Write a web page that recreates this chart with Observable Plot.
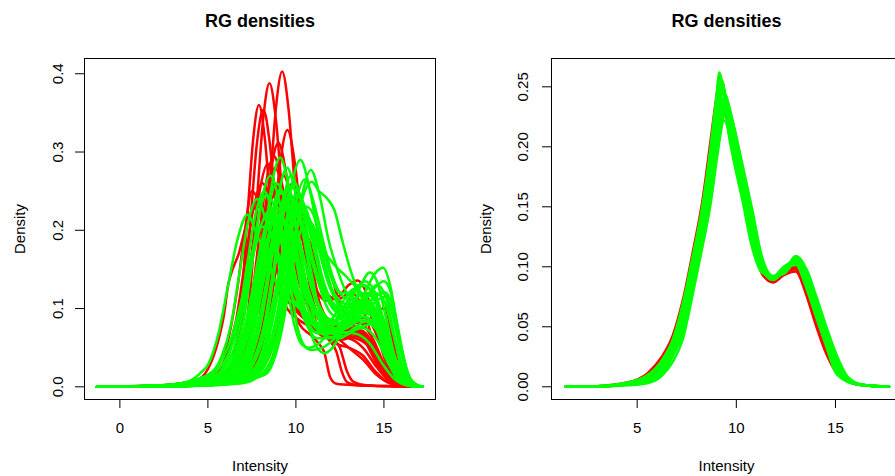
<!DOCTYPE html>
<html><head><meta charset="utf-8">
<script src="https://cdn.jsdelivr.net/npm/d3@7"></script>
<script src="https://cdn.jsdelivr.net/npm/@observablehq/plot@0.6"></script>
<style>
html,body{margin:0;padding:0;background:#fff;}
#wrap{position:relative;width:895px;height:476px;overflow:hidden;background:#fff;}
#left,#right{position:absolute;top:0;height:476px;}
#left{left:0;width:450px;} #right{left:447px;width:460px;}
#left svg,#right svg{max-width:none !important;display:block;}
</style></head><body><div id="wrap"><div id="left"></div><div id="right"></div></div>
<script>
// ---------- text ----------
const mainTitle = "RG densities";
const xLabel = "Intensity";
const yLabel = "Density";

// ---------- ticks ----------
const leftXTicks = [0, 5, 10, 15];
const leftYTicks = [0, 0.1, 0.2, 0.3, 0.4];
const rightXTicks = [5, 10, 15];
const rightYTicks = [0, 0.05, 0.10, 0.15, 0.20, 0.25];

// ---------- left panel: raw densities, [intensity, density] knots per array ----------
const leftRed = [
 [[-1.3,0],[1,0.0005],[3,0.0015],[5,0.004],[6.5,0.009],[7.42,0.022],[7.78,0.058],[8.14,0.131],[8.5,0.245],[8.86,0.355],[9.22,0.403],[9.58,0.355],[9.94,0.255],[10.3,0.16],[10.8,0.095],[11.5,0.072],[12.3,0.068],[13.2,0.075],[14,0.058],[14.8,0.025],[15.5,0.006],[16.3,0.001],[17.2,0]],
 [[-1.3,0],[1,0.0005],[3,0.002],[5,0.005],[6,0.011],[6.7,0.023],[7.06,0.057],[7.42,0.126],[7.78,0.236],[8.14,0.342],[8.5,0.388],[8.86,0.342],[9.22,0.246],[9.58,0.156],[10.1,0.1],[10.8,0.08],[11.6,0.07],[12.5,0.068],[13.4,0.072],[14.2,0.055],[15,0.022],[15.7,0.005],[16.5,0.0005],[17.2,0]],
 [[-1.3,0],[1,0.0005],[3,0.002],[4.5,0.005],[5.5,0.012],[6.28,0.024],[6.6,0.055],[6.93,0.117],[7.25,0.219],[7.58,0.318],[7.9,0.36],[8.23,0.318],[8.55,0.234],[8.88,0.157],[9.4,0.115],[10.2,0.095],[11,0.08],[12,0.065],[13,0.062],[13.8,0.05],[14.6,0.025],[15.4,0.006],[16.2,0.001],[17.2,0]],
 [[-1.3,0],[1,0.0005],[3,0.002],[5,0.006],[6,0.012],[6.35,0.023],[6.71,0.054],[7.07,0.115],[7.43,0.215],[7.79,0.312],[8.15,0.354],[8.51,0.312],[8.87,0.227],[9.23,0.15],[9.8,0.105],[10.6,0.085],[11.4,0.07],[12.3,0.055],[13,0.05],[13.8,0.04],[14.5,0.02],[15.3,0.005],[16.2,0.0005],[17.2,0]],
 [[-1.3,0],[1,0.0005],[3,0.0015],[5,0.004],[6.5,0.01],[7.52,0.02],[7.92,0.049],[8.32,0.107],[8.72,0.199],[9.12,0.289],[9.52,0.328],[9.92,0.289],[10.32,0.209],[10.72,0.137],[11.3,0.09],[12,0.075],[12.8,0.078],[13.6,0.082],[14.4,0.06],[15.1,0.025],[15.8,0.006],[16.6,0.001],[17.2,0]],
 [[-1.3,0],[1,0.0005],[3,0.0018],[5,0.005],[6.2,0.011],[6.88,0.022],[7.3,0.048],[7.72,0.101],[8.15,0.189],[8.58,0.275],[9,0.312],[9.43,0.275],[9.85,0.204],[10.28,0.141],[10.9,0.1],[11.7,0.078],[12.5,0.07],[13.3,0.072],[14.1,0.058],[14.9,0.028],[15.6,0.007],[16.4,0.001],[17.2,0]],
 [[-1.3,0],[1,0.0005],[3,0.002],[5,0.006],[6,0.013],[6.5,0.022],[6.95,0.047],[7.4,0.096],[7.85,0.179],[8.3,0.26],[8.75,0.295],[9.2,0.26],[9.65,0.199],[10.1,0.141],[10.7,0.105],[11.5,0.085],[12.3,0.072],[13.1,0.07],[13.9,0.06],[14.7,0.03],[15.4,0.008],[16.2,0.001],[17.2,0]],
 [[-1.3,0],[1,0.0006],[3,0.0022],[4.8,0.007],[5.6,0.013],[6.15,0.022],[6.6,0.045],[7.05,0.093],[7.5,0.173],[7.95,0.251],[8.4,0.285],[8.85,0.251],[9.3,0.193],[9.75,0.138],[10.3,0.1],[11,0.075],[11.8,0.062],[12.6,0.06],[13.4,0.065],[14.2,0.05],[14.9,0.022],[15.6,0.005],[16.4,0.0005],[17.2,0]],
 [[-1.3,0],[1,0.0006],[3,0.0025],[4.6,0.008],[5.6,0.021],[6.1,0.043],[6.6,0.085],[7.1,0.158],[7.6,0.229],[8.1,0.26],[8.6,0.229],[9.1,0.168],[9.6,0.115],[10.2,0.08],[10.9,0.065],[11.3,0.055],[11.6,0.045],[11.95,0.012],[12.3,0.004],[13.5,0.002],[15,0.001],[17.2,0]],
 [[-1.3,0],[1,0.001],[3,0.003],[4.5,0.01],[5.14,0.029],[5.6,0.06],[5.9,0.09],[6.15,0.13],[6.4,0.15],[6.75,0.17],[7.1,0.2],[7.5,0.225],[7.9,0.23],[8.3,0.215],[8.8,0.18],[9.3,0.14],[9.8,0.11],[10.5,0.09],[11.3,0.075],[12.2,0.065],[13,0.05],[13.8,0.035],[14.6,0.015],[15.4,0.004],[16.3,0.0005],[17.2,0]],
 [[-1.3,0],[1,0.0005],[3,0.0015],[5,0.004],[6.3,0.01],[7.05,0.018],[7.5,0.041],[7.95,0.088],[8.4,0.164],[8.85,0.238],[9.3,0.27],[9.75,0.238],[10.2,0.179],[10.65,0.118],[11.2,0.08],[11.8,0.062],[12.3,0.045],[12.6,0.02],[12.9,0.006],[13.5,0.002],[15,0.001],[17.2,0]],
 [[-1.3,0],[1,0.0005],[3,0.002],[5,0.006],[5.8,0.011],[6.4,0.019],[6.9,0.04],[7.4,0.081],[7.9,0.152],[8.4,0.22],[8.9,0.25],[9.4,0.22],[9.9,0.172],[10.4,0.121],[11,0.085],[11.8,0.065],[12.6,0.062],[13.4,0.07],[14.4,0.09],[15.05,0.101],[15.5,0.06],[15.9,0.02],[16.3,0.004],[17.2,0]],
 [[-1.3,0],[1,0.0004],[3,0.0012],[5,0.003],[6.3,0.008],[7.1,0.017],[7.6,0.037],[8.1,0.078],[8.6,0.146],[9.1,0.212],[9.6,0.24],[10.1,0.212],[10.6,0.166],[11.1,0.128],[11.7,0.11],[12.4,0.115],[13,0.13],[13.5,0.136],[14,0.12],[14.6,0.07],[15.2,0.025],[15.8,0.006],[16.6,0.001],[17.2,0]],
 [[-1.3,0],[1,0.0004],[3,0.0012],[5,0.003],[6.5,0.007],[7.5,0.015],[8,0.034],[8.5,0.071],[9,0.134],[9.5,0.194],[10,0.22],[10.5,0.194],[11,0.144],[11.5,0.09],[12,0.065],[12.5,0.05],[12.9,0.02],[13.3,0.006],[14,0.002],[15.5,0.0005],[17.2,0]],
 [[-1.3,0],[1,0.0005],[3,0.0018],[5,0.005],[6.2,0.01],[6.8,0.018],[7.3,0.045],[7.8,0.1],[8.3,0.17],[8.7,0.215],[9,0.23],[9.5,0.22],[10,0.2],[10.6,0.185],[11.3,0.18],[11.8,0.16],[12.3,0.12],[12.8,0.09],[13.4,0.075],[14,0.055],[14.7,0.025],[15.4,0.006],[16.2,0.001],[17.2,0]],
 [[-1.3,0],[1,0.0005],[3,0.002],[5,0.0055],[6.3,0.014],[7,0.04],[7.5,0.09],[7.9,0.16],[8.3,0.235],[8.6,0.265],[9,0.245],[9.5,0.18],[10,0.125],[10.6,0.09],[11.3,0.072],[12.1,0.065],[12.9,0.068],[13.7,0.07],[14.5,0.05],[15.2,0.02],[15.9,0.004],[17.2,0]],
 [[-1.3,0],[1,0.0005],[3,0.0016],[5,0.0045],[6.6,0.011],[7.5,0.03],[8.1,0.075],[8.6,0.14],[9,0.21],[9.3,0.245],[9.7,0.23],[10.2,0.17],[10.7,0.12],[11.2,0.09],[11.9,0.077],[12.7,0.08],[13.4,0.095],[13.9,0.1],[14.5,0.08],[15.1,0.04],[15.7,0.01],[16.3,0.001],[17.2,0]],
 [[-1.3,0],[1,0.0008],[3,0.003],[4.6,0.01],[5.6,0.028],[6.2,0.065],[6.7,0.13],[7.1,0.2],[7.5,0.25],[7.9,0.235],[8.4,0.18],[8.9,0.13],[9.5,0.1],[10.2,0.085],[11,0.075],[11.8,0.068],[12.6,0.065],[13.4,0.062],[14.2,0.05],[14.9,0.025],[15.6,0.006],[16.3,0.001],[17.2,0]],
 [[-1.3,0],[2,0.0004],[4,0.0012],[6,0.004],[7.5,0.012],[8.4,0.035],[9,0.08],[9.5,0.14],[10,0.185],[10.3,0.2],[10.7,0.19],[11.2,0.15],[11.7,0.12],[12.4,0.112],[13.1,0.12],[13.6,0.11],[14.1,0.08],[14.6,0.04],[15.1,0.013],[15.6,0.002],[17.2,0]],
 [[-1.3,0],[1,0.0005],[3,0.0018],[5,0.005],[6.4,0.013],[7.2,0.04],[7.8,0.1],[8.2,0.18],[8.5,0.25],[8.8,0.28],[9.1,0.265],[9.5,0.2],[10,0.13],[10.6,0.09],[11.3,0.073],[12.1,0.068],[12.9,0.07],[13.7,0.072],[14.5,0.05],[15.2,0.018],[15.9,0.003],[17.2,0]],
 [[-1.3,0],[1,0.0004],[3,0.0013],[5,0.0038],[6.7,0.01],[7.7,0.03],[8.3,0.075],[8.8,0.14],[9.3,0.22],[9.8,0.26],[10.3,0.225],[10.8,0.16],[11.3,0.11],[11.9,0.085],[12.6,0.08],[13.3,0.088],[14,0.088],[14.7,0.06],[15.3,0.025],[15.9,0.005],[16.6,0.001],[17.2,0]]
];

const leftGreen = [
 [[-1.3,0],[1,0.0005],[3,0.002],[5,0.006],[6,0.013],[6.73,0.023],[7.2,0.048],[7.68,0.095],[8.15,0.178],[8.63,0.258],[9.1,0.293],[9.58,0.258],[10.05,0.198],[10.53,0.14],[11.1,0.1],[11.8,0.082],[12.6,0.08],[13.5,0.09],[14.3,0.085],[15,0.05],[15.6,0.018],[16.2,0.004],[16.8,0.0005],[17.2,0]],
 [[-1.3,0],[1,0.0005],[3,0.0015],[5,0.003],[6.5,0.008],[7.75,0.019],[8.25,0.044],[8.75,0.094],[9.25,0.176],[9.75,0.256],[10.25,0.29],[10.75,0.256],[11.25,0.196],[11.75,0.144],[12.3,0.115],[13,0.105],[13.8,0.11],[14.5,0.095],[15.2,0.055],[15.8,0.02],[16.4,0.004],[17.2,0]],
 [[-1.3,0],[1,0.0004],[3,0.001],[5,0.003],[7,0.008],[8.35,0.017],[8.85,0.041],[9.35,0.09],[9.85,0.168],[10.35,0.244],[10.85,0.277],[11.35,0.244],[11.85,0.188],[12.35,0.15],[12.9,0.12],[13.6,0.11],[14.3,0.1],[15,0.065],[15.6,0.025],[16.2,0.006],[16.8,0.001],[17.2,0]],
 [[-1.3,0],[1,0.0004],[3,0.0012],[5,0.0035],[6.8,0.009],[7.88,0.017],[8.4,0.04],[8.93,0.086],[9.45,0.161],[9.98,0.234],[10.5,0.265],[11.03,0.234],[11.55,0.186],[12.08,0.141],[12.7,0.115],[13.4,0.11],[14.1,0.105],[14.8,0.075],[15.4,0.035],[16,0.009],[16.6,0.001],[17.2,0]],
 [[-1.3,0],[1,0.0005],[3,0.0015],[5,0.0045],[6.3,0.01],[7.13,0.02],[7.6,0.046],[8.08,0.091],[8.55,0.17],[9.03,0.247],[9.5,0.28],[9.98,0.247],[10.45,0.19],[10.93,0.131],[11.5,0.095],[12.2,0.08],[13,0.082],[13.8,0.09],[14.6,0.075],[15.3,0.035],[15.9,0.01],[16.5,0.001],[17.2,0]],
 [[-1.3,0],[1,0.0006],[3,0.002],[4.5,0.006],[5.4,0.013],[6.05,0.022],[6.55,0.044],[7.05,0.088],[7.55,0.164],[8.05,0.238],[8.55,0.27],[9.05,0.238],[9.55,0.184],[10.05,0.128],[10.6,0.095],[11.3,0.075],[12.1,0.07],[12.9,0.075],[13.7,0.085],[14.5,0.075],[15.2,0.04],[15.8,0.012],[16.4,0.002],[17.2,0]],
 [[-1.3,0],[1,0.0005],[3,0.0015],[5,0.004],[6.4,0.009],[7.28,0.018],[7.8,0.042],[8.33,0.085],[8.85,0.158],[9.38,0.229],[9.9,0.26],[10.43,0.229],[10.95,0.183],[11.48,0.135],[12.1,0.1],[12.8,0.09],[13.6,0.095],[14.4,0.09],[15.1,0.055],[15.7,0.02],[16.3,0.004],[17.2,0]],
 [[-1.3,0],[1,0.0004],[3,0.0012],[5,0.0035],[7,0.008],[8.2,0.016],[8.7,0.04],[9.2,0.085],[9.7,0.155],[10.2,0.225],[10.6,0.255],[10.9,0.262],[11.3,0.25],[11.8,0.24],[12.2,0.225],[12.6,0.19],[13.1,0.149],[13.6,0.12],[14.2,0.1],[14.8,0.07],[15.4,0.035],[16,0.01],[16.6,0.001],[17.2,0]],
 [[-1.3,0],[1,0.001],[3,0.003],[4,0.008],[4.6,0.018],[5.05,0.03],[5.6,0.068],[6.15,0.13],[6.7,0.19],[7.25,0.22],[7.8,0.194],[8.35,0.164],[8.9,0.132],[9.5,0.115],[10.2,0.1],[11,0.085],[11.8,0.075],[12.6,0.07],[13.4,0.068],[14.2,0.055],[14.9,0.03],[15.6,0.01],[16.3,0.002],[17.2,0]],
 [[-1.3,0],[1,0.0008],[3,0.003],[4.3,0.009],[5.3,0.02],[5.8,0.04],[6.3,0.078],[6.8,0.146],[7.3,0.212],[7.8,0.24],[8.3,0.212],[8.8,0.176],[9.3,0.138],[9.9,0.11],[10.6,0.09],[11.4,0.075],[12.2,0.068],[13,0.07],[13.8,0.075],[14.6,0.06],[15.3,0.028],[15.9,0.008],[16.5,0.001],[17.2,0]],
 [[-1.3,0],[1,0.0006],[3,0.0025],[4.5,0.008],[5.7,0.019],[6.2,0.041],[6.7,0.081],[7.2,0.152],[7.7,0.22],[8.2,0.25],[8.7,0.22],[9.2,0.182],[9.7,0.136],[10.3,0.1],[11,0.078],[11.7,0.065],[12.5,0.062],[13.3,0.075],[14.1,0.085],[14.8,0.065],[15.5,0.028],[16.1,0.007],[16.7,0.001],[17.2,0]],
 [[-1.3,0],[1,0.0005],[3,0.0018],[5,0.006],[6,0.012],[6.58,0.02],[7.1,0.042],[7.63,0.081],[8.15,0.152],[8.68,0.22],[9.2,0.25],[9.73,0.22],[10.25,0.182],[10.78,0.136],[11.4,0.1],[12.1,0.085],[12.9,0.09],[13.7,0.1],[14.5,0.09],[15.2,0.05],[15.8,0.018],[16.4,0.003],[17.2,0]],
 [[-1.3,0],[1,0.0006],[3,0.002],[4.8,0.007],[5.6,0.012],[6.15,0.019],[6.7,0.039],[7.25,0.075],[7.8,0.14],[8.35,0.203],[8.9,0.23],[9.45,0.203],[10,0.17],[10.55,0.125],[11.2,0.09],[11.9,0.07],[12.7,0.065],[13.5,0.075],[14.3,0.08],[15,0.055],[15.6,0.022],[16.2,0.005],[16.8,0.0005],[17.2,0]],
 [[-1.3,0],[1,0.0005],[3,0.0015],[5,0.0045],[6.4,0.01],[7.2,0.017],[7.7,0.038],[8.2,0.078],[8.7,0.146],[9.2,0.212],[9.7,0.24],[10.2,0.212],[10.7,0.176],[11.2,0.138],[11.8,0.11],[12.5,0.1],[13.3,0.105],[14.1,0.11],[14.8,0.085],[15.4,0.045],[16,0.013],[16.6,0.002],[17.2,0]],
 [[-1.3,0],[2,0.0005],[4,0.0015],[6,0.003],[7,0.005],[7.5,0.008],[8,0.02],[8.5,0.045],[9,0.088],[9.3,0.119],[9.6,0.16],[10,0.2],[10.4,0.218],[10.8,0.21],[11.3,0.175],[11.8,0.135],[12.3,0.11],[13,0.1],[13.8,0.11],[14.5,0.12],[15,0.11],[15.5,0.07],[16,0.025],[16.5,0.005],[17.2,0]],
 [[-1.3,0],[2,0.0005],[4,0.002],[6,0.004],[7,0.008],[7.5,0.015],[8,0.035],[8.5,0.07],[9,0.12],[9.5,0.18],[9.9,0.215],[10.3,0.225],[10.8,0.2],[11.3,0.155],[11.8,0.12],[12.4,0.1],[13.1,0.095],[13.8,0.1],[14.5,0.1],[15.1,0.07],[15.7,0.03],[16.2,0.008],[16.8,0.001],[17.2,0]],
 [[-1.3,0],[1,0.0006],[3,0.002],[5,0.008],[6,0.02],[6.8,0.05],[7.4,0.1],[7.9,0.15],[8.4,0.19],[8.9,0.2],[9.3,0.185],[9.7,0.13],[10.1,0.075],[10.5,0.052],[10.9,0.047],[11.5,0.05],[12.2,0.062],[13,0.085],[13.8,0.115],[14.5,0.145],[14.95,0.152],[15.35,0.13],[15.8,0.07],[16.2,0.025],[16.6,0.005],[17.2,0]],
 [[-1.3,0],[1,0.0005],[3,0.0015],[5,0.005],[6.5,0.015],[7.3,0.04],[7.9,0.085],[8.4,0.14],[8.9,0.19],[9.3,0.21],[9.7,0.195],[10.1,0.15],[10.5,0.1],[10.9,0.065],[11.3,0.047],[11.6,0.043],[12,0.048],[12.6,0.07],[13.2,0.1],[13.7,0.13],[14.2,0.146],[14.6,0.135],[15.1,0.09],[15.6,0.04],[16.1,0.01],[16.6,0.002],[17.2,0]],
 [[-1.3,0],[1,0.0006],[3,0.002],[5,0.007],[6.3,0.02],[7,0.05],[7.6,0.105],[8.1,0.16],[8.6,0.205],[9,0.22],[9.4,0.205],[9.8,0.16],[10.3,0.11],[10.8,0.078],[11.3,0.068],[12,0.07],[12.8,0.085],[13.6,0.105],[14.4,0.125],[15,0.135],[15.4,0.12],[15.8,0.075],[16.2,0.03],[16.6,0.007],[17.2,0]],
 [[-1.3,0],[1,0.0008],[3,0.0025],[4.5,0.008],[5.5,0.02],[6.3,0.05],[6.9,0.1],[7.5,0.16],[8,0.205],[8.5,0.225],[9,0.21],[9.5,0.17],[10,0.12],[10.6,0.08],[11.2,0.062],[11.9,0.062],[12.7,0.075],[13.5,0.09],[14.3,0.11],[15,0.121],[15.4,0.11],[15.8,0.07],[16.2,0.028],[16.6,0.006],[17.2,0]],
 [[-1.3,0],[2,0.0004],[4,0.0012],[6,0.004],[7.5,0.012],[8.3,0.03],[8.9,0.065],[9.4,0.12],[9.9,0.185],[10.3,0.222],[10.6,0.23],[11,0.22],[11.5,0.18],[12,0.14],[12.5,0.12],[13.1,0.12],[13.8,0.13],[14.4,0.12],[15,0.08],[15.6,0.035],[16.2,0.008],[16.8,0.001],[17.2,0]],
 [[-1.3,0],[2,0.0005],[4,0.0015],[6,0.005],[7.2,0.018],[7.9,0.045],[8.5,0.09],[9,0.14],[9.4,0.18],[9.8,0.195],[10.2,0.175],[10.6,0.13],[11,0.09],[11.4,0.075],[12,0.085],[12.7,0.11],[13.3,0.125],[13.9,0.115],[14.5,0.08],[15.1,0.04],[15.7,0.012],[16.3,0.002],[17.2,0]],
 [[-1.3,0],[1,0.0008],[3,0.003],[4.5,0.01],[5.5,0.025],[6.3,0.06],[6.9,0.11],[7.5,0.17],[8,0.205],[8.5,0.2],[9,0.17],[9.5,0.125],[9.9,0.08],[10.3,0.055],[10.7,0.05],[11.3,0.055],[12,0.075],[12.8,0.105],[13.6,0.13],[14.2,0.125],[14.8,0.09],[15.4,0.045],[16,0.012],[16.6,0.002],[17.2,0]],
 [[-1.3,0],[2,0.0005],[4,0.0015],[6,0.005],[7,0.015],[7.6,0.035],[8.2,0.08],[8.7,0.145],[9.2,0.225],[9.6,0.255],[10.1,0.25],[10.6,0.225],[11.1,0.195],[11.7,0.17],[12.3,0.153],[12.9,0.14],[13.5,0.125],[14.1,0.11],[14.7,0.085],[15.3,0.045],[15.9,0.013],[16.5,0.002],[17.2,0]],
 [[-1.3,0],[1,0.0005],[3,0.0016],[5,0.005],[6.4,0.012],[7.2,0.03],[7.8,0.07],[8.3,0.13],[8.8,0.195],[9.4,0.235],[9.9,0.215],[10.4,0.17],[10.9,0.125],[11.4,0.095],[11.9,0.082],[12.6,0.088],[13.3,0.1],[14,0.11],[14.6,0.095],[15.2,0.055],[15.8,0.02],[16.4,0.004],[17.2,0]],
 [[-1.3,0],[1,0.0006],[3,0.002],[5,0.006],[6.2,0.016],[7,0.045],[7.6,0.1],[8.1,0.175],[8.5,0.235],[8.9,0.26],[9.3,0.245],[9.8,0.195],[10.3,0.14],[10.8,0.105],[11.5,0.085],[12.3,0.08],[13.1,0.09],[13.9,0.1],[14.6,0.085],[15.3,0.045],[15.9,0.014],[16.5,0.002],[17.2,0]],
 [[-1.3,0],[2,0.0005],[4,0.0015],[6,0.004],[7.2,0.014],[8,0.04],[8.6,0.09],[9.1,0.155],[9.6,0.22],[10,0.245],[10.5,0.225],[11,0.18],[11.5,0.135],[12,0.11],[12.7,0.1],[13.4,0.105],[14.1,0.11],[14.7,0.09],[15.3,0.05],[15.9,0.016],[16.5,0.003],[17.2,0]],
 [[-1.3,0],[1,0.0005],[3,0.0018],[5,0.006],[6.4,0.017],[7.2,0.045],[7.8,0.095],[8.3,0.15],[8.8,0.2],[9.2,0.215],[9.7,0.195],[10.2,0.145],[10.7,0.1],[11.2,0.075],[11.8,0.068],[12.5,0.075],[13.2,0.09],[13.9,0.11],[14.6,0.13],[15.1,0.115],[15.6,0.065],[16.1,0.022],[16.6,0.004],[17.2,0]],
 [[-1.3,0],[1,0.0007],[3,0.0025],[4.8,0.008],[5.8,0.02],[6.5,0.05],[7.1,0.11],[7.6,0.18],[8,0.23],[8.3,0.245],[8.7,0.235],[9.2,0.195],[9.7,0.15],[10.2,0.112],[10.8,0.088],[11.5,0.075],[12.3,0.072],[13.1,0.08],[13.9,0.09],[14.6,0.075],[15.3,0.035],[15.9,0.01],[16.5,0.001],[17.2,0]],
 [[-1.3,0],[1,0.0005],[3,0.0014],[5,0.004],[6.6,0.011],[7.5,0.03],[8.2,0.075],[8.7,0.14],[9.2,0.225],[9.7,0.27],[10.2,0.245],[10.7,0.19],[11.2,0.14],[11.7,0.105],[12.3,0.09],[13,0.09],[13.8,0.1],[14.5,0.095],[15.2,0.058],[15.8,0.022],[16.4,0.004],[17.2,0]],
 [[-1.3,0],[2,0.0004],[4,0.0012],[6,0.0035],[7.4,0.012],[8.2,0.035],[8.8,0.08],[9.3,0.14],[9.8,0.205],[10.2,0.235],[10.6,0.225],[11.1,0.18],[11.6,0.13],[12.1,0.1],[12.8,0.09],[13.5,0.095],[14.2,0.11],[14.9,0.12],[15.4,0.1],[15.9,0.05],[16.4,0.012],[16.9,0.001],[17.2,0]],
 [[-1.3,0],[1,0.0006],[3,0.0022],[5,0.008],[6.2,0.025],[6.9,0.06],[7.5,0.12],[8,0.18],[8.4,0.215],[8.7,0.225],[9.1,0.21],[9.6,0.165],[10.1,0.115],[10.6,0.082],[11.1,0.07],[11.7,0.072],[12.4,0.085],[13.1,0.105],[13.9,0.12],[14.5,0.11],[15.1,0.07],[15.7,0.028],[16.3,0.005],[17.2,0]],
 [[-1.3,0],[2,0.0005],[4,0.0015],[6,0.004],[7.3,0.014],[8.1,0.04],[8.7,0.09],[9.2,0.155],[9.6,0.205],[9.9,0.22],[10.3,0.205],[10.8,0.155],[11.3,0.1],[11.9,0.068],[12.5,0.08],[13.2,0.115],[13.9,0.135],[14.4,0.125],[15,0.085],[15.6,0.04],[16.2,0.01],[16.8,0.001],[17.2,0]],
 [[-1.3,0],[1,0.0005],[3,0.0018],[5,0.0055],[6.4,0.015],[7.2,0.04],[7.8,0.09],[8.3,0.16],[8.7,0.225],[9,0.25],[9.4,0.24],[9.9,0.19],[10.4,0.14],[10.9,0.105],[11.5,0.085],[12.2,0.075],[13,0.08],[13.8,0.095],[14.6,0.09],[15.3,0.05],[15.9,0.016],[16.5,0.002],[17.2,0]],
 [[-1.3,0],[2,0.0004],[4,0.001],[6,0.003],[7.6,0.01],[8.5,0.03],[9.1,0.07],[9.6,0.125],[10.1,0.185],[10.6,0.215],[11.1,0.2],[11.6,0.16],[12.1,0.12],[12.7,0.095],[13.4,0.09],[14.1,0.1],[14.7,0.112],[15.2,0.115],[15.6,0.095],[16,0.05],[16.4,0.015],[16.9,0.002],[17.2,0]],
 [[-1.3,0],[1,0.0005],[3,0.0015],[5,0.0045],[6.5,0.012],[7.4,0.035],[8,0.08],[8.5,0.145],[9,0.215],[9.5,0.25],[10,0.235],[10.5,0.2],[11,0.16],[11.5,0.125],[12,0.105],[12.7,0.095],[13.4,0.1],[14.1,0.105],[14.8,0.08],[15.4,0.04],[16,0.011],[16.6,0.001],[17.2,0]]
];

// ---------- right panel: normalized densities on a shared intensity grid ----------
const rightX = [1.4, 3, 4.5, 5.5, 6.2, 6.8, 7.3, 7.8, 8.3, 8.7, 9.0, 9.15, 9.3, 9.45, 9.6, 9.9, 10.3, 10.8, 11.3, 11.85, 12.4, 13.0, 13.5, 14.0, 14.5, 15.0, 15.6, 16.3, 17.7];
const rightRed = [
 [0,0.0005,0.0035,0.011,0.024,0.043,0.072,0.112,0.156,0.205,0.242,0.258,0.25,0.235,0.218,0.192,0.162,0.122,0.094,0.087,0.093,0.096,0.078,0.052,0.029,0.013,0.0045,0.0014,0],
 [0,0.0004,0.0025,0.0068,0.0175,0.037,0.066,0.105,0.148,0.195,0.236,0.253,0.254,0.24,0.222,0.193,0.162,0.122,0.095,0.088,0.095,0.098,0.083,0.058,0.034,0.014,0.005,0.0015,0],
 [0,0.0003,0.002,0.005,0.013,0.03,0.054,0.092,0.134,0.174,0.205,0.219,0.228,0.226,0.219,0.196,0.168,0.13,0.097,0.088,0.095,0.1,0.088,0.063,0.04,0.018,0.006,0.0015,0],
 [0,0.0003,0.0019,0.0047,0.0119,0.0272,0.0492,0.0847,0.126,0.164,0.198,0.213,0.228,0.236,0.233,0.208,0.177,0.139,0.099,0.089,0.094,0.1,0.094,0.069,0.045,0.023,0.007,0.0017,0]
];
const rightGreen = [
 [0,0.0005,0.0035,0.0095,0.021,0.0396,0.0693,0.1087,0.152,0.2,0.243,0.262,0.252,0.232,0.212,0.186,0.156,0.116,0.095,0.092,0.1,0.103,0.084,0.06,0.036,0.012,0.0043,0.0014,0],
 [0,0.00045,0.003,0.008,0.019,0.0372,0.0655,0.1044,0.1477,0.194,0.236,0.256,0.254,0.236,0.216,0.19,0.159,0.12,0.0958,0.0912,0.0988,0.1014,0.0845,0.0595,0.0358,0.0133,0.0049,0.0015,0],
 [0,0.0004,0.0023,0.0061,0.0158,0.0348,0.0617,0.1,0.1433,0.188,0.228,0.25,0.255,0.24,0.222,0.1936,0.1632,0.124,0.0966,0.0905,0.1,0.105,0.089,0.062,0.038,0.0155,0.0054,0.0015,0],
 [0,0.00035,0.0021,0.0055,0.0144,0.0324,0.0578,0.0962,0.139,0.182,0.22,0.24,0.252,0.243,0.228,0.197,0.167,0.128,0.0975,0.0898,0.0976,0.106,0.093,0.0645,0.0403,0.0178,0.006,0.0016,0],
 [0,0.0003,0.002,0.005,0.013,0.03,0.054,0.0923,0.1347,0.176,0.2108,0.229,0.248,0.243,0.232,0.2012,0.1708,0.132,0.0983,0.089,0.097,0.107,0.095,0.067,0.0425,0.02,0.0065,0.0016,0],
 [0,0.0003,0.00195,0.00485,0.01245,0.0286,0.0516,0.0885,0.1303,0.17,0.2054,0.221,0.237,0.244,0.236,0.2058,0.1746,0.136,0.0992,0.0899,0.0963,0.108,0.097,0.0695,0.0448,0.0223,0.007,0.0017,0],
 [0,0.0003,0.0019,0.0047,0.0119,0.0272,0.0492,0.0847,0.126,0.164,0.2,0.216,0.232,0.24,0.236,0.2103,0.1784,0.14,0.1,0.0907,0.0955,0.109,0.099,0.072,0.047,0.0245,0.0076,0.0018,0],
 [0,0.0003,0.0018,0.0038,0.0095,0.0258,0.0444,0.0809,0.1217,0.158,0.194,0.21,0.226,0.236,0.234,0.2156,0.1822,0.144,0.104,0.0916,0.0948,0.106,0.0979,0.0745,0.0495,0.0268,0.0082,0.00185,0],
 [0,0.0003,0.0013,0.003,0.0085,0.021,0.0396,0.077,0.1173,0.152,0.188,0.205,0.22,0.232,0.231,0.215,0.186,0.148,0.108,0.0924,0.0941,0.104,0.0988,0.077,0.052,0.029,0.0088,0.0019,0],
 [0,0.0003,0.002,0.0049,0.0125,0.0287,0.0518,0.0885,0.13,0.168,0.198,0.212,0.222,0.221,0.214,0.196,0.17,0.134,0.099,0.0895,0.096,0.103,0.095,0.069,0.044,0.022,0.007,0.0017,0]
];

// ---------- build tidy rows ----------
function pairRows(curves, tag) {
  const rows = [];
  curves.forEach((c, i) => c.forEach(([x, y]) => rows.push({id: tag + i, x, y})));
  return rows;
}
function gridRows(xs, curves, tag) {
  const rows = [];
  curves.forEach((ys, i) => ys.forEach((y, j) => rows.push({id: tag + i, x: xs[j], y})));
  return rows;
}

const FONT = "'Liberation Sans', Arial, Helvetica, sans-serif";

function panel(o) {
  return Plot.plot({
    width: o.width, height: 476,
    marginLeft: o.marginLeft, marginRight: o.marginRight, marginTop: 58, marginBottom: 77,
    style: {fontFamily: FONT, fontSize: "15px", background: "white", color: "black", maxWidth: "none"},
    x: {domain: o.xDomain},
    y: {domain: o.yDomain},
    marks: [
      Plot.line(o.red, {x: "x", y: "y", z: "id", stroke: "#ff0000", strokeWidth: 2.5, curve: "monotone-x"}),
      Plot.line(o.green, {x: "x", y: "y", z: "id", stroke: "#00ff00", strokeWidth: 2.5, curve: "monotone-x"}),
      Plot.frame({stroke: "black", strokeWidth: 1}),
      Plot.axisX({ticks: o.xTicks, tickSize: 9, tickPadding: 14, label: null, fontSize: 15, tickFormat: d => String(d)}),
      Plot.axisY({ticks: o.yTicks, tickSize: 9, tickFormat: () => "", label: null}),
      Plot.text(o.yTicks, {y: d => d, text: o.yFormat, frameAnchor: "left", rotate: -90, lineAnchor: "bottom", textAnchor: "middle", dx: o.tickDx, fontSize: 15}),
      Plot.text([yLabel], {text: d => d, frameAnchor: "left", rotate: -90, lineAnchor: "bottom", textAnchor: "middle", dx: o.labelDx, fontSize: 15}),
      Plot.text([xLabel], {text: d => d, frameAnchor: "bottom", lineAnchor: "bottom", dy: 71, fontSize: 15}),
      Plot.text([mainTitle], {text: d => d, frameAnchor: "top", lineAnchor: "bottom", dy: -32, fontSize: 18, fontWeight: "bold"})
    ]
  });
}

document.getElementById("left").append(panel({
  width: 450, marginLeft: 84, marginRight: 15,
  xDomain: [-2.01, 17.93], yDomain: [-0.0162, 0.4195],
  xTicks: leftXTicks, yTicks: leftYTicks, yFormat: d3.format(".1f"),
  red: pairRows(leftRed, "r"), green: pairRows(leftGreen, "g"),
  tickDx: -22, labelDx: -60
}));

document.getElementById("right").append(panel({
  width: 460, marginLeft: 104, marginRight: 6,
  xDomain: [0.68, 18.33], yDomain: [-0.0106, 0.2736],
  xTicks: rightXTicks, yTicks: rightYTicks, yFormat: d3.format(".2f"),
  red: gridRows(rightX, rightRed, "r"), green: gridRows(rightX, rightGreen, "g"),
  tickDx: -23.5, labelDx: -61
}));
</script>
</body></html>
